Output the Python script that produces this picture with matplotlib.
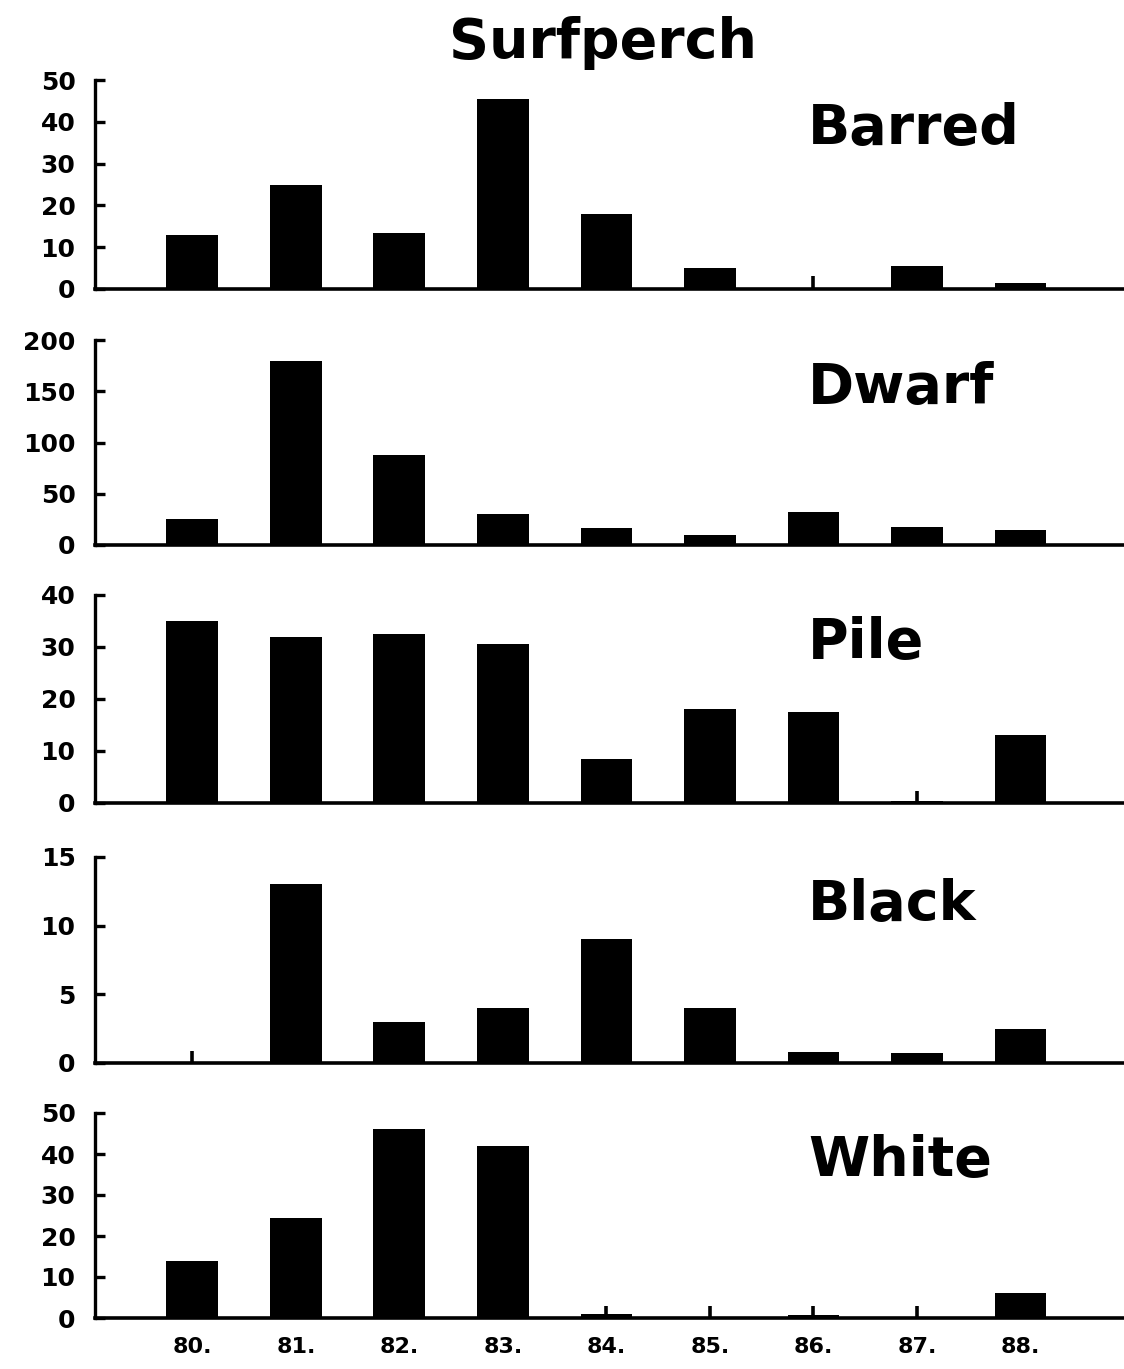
# surfperch catch by year, five stacked bar panels

import matplotlib
matplotlib.use("Agg")
import matplotlib.pyplot as plt
import matplotlib.transforms as mtransforms
import numpy as np

years = ['80.', '81.', '82.', '83.', '84.', '85.', '86.', '87.', '88.']
species = ['Barred', 'Dwarf', 'Pile', 'Black', 'White']

barred = [13, 25, 13.5, 45.5, 18, 5, 0, 5.5, 1.5]
dwarf = [25, 180, 88, 30, 17, 10, 32, 18, 15]
pile = [35, 32, 32.5, 30.5, 8.5, 18, 17.5, 0.3, 13]
black = [0, 13, 3, 4, 9, 4, 0.8, 0.7, 2.5]
white = [14, 24.5, 46, 42, 1, 0, 0.8, 0, 6]

# small vertical marks drawn at these years (near-zero catches)
barred_marks = ['86.']
dwarf_marks = []
pile_marks = ['87.']
black_marks = ['80.']
white_marks = ['84.', '85.', '86.', '87.']

y_max = [50, 200, 40, 15, 50]
y_step = [10, 50, 10, 5, 10]

data = [barred, dwarf, pile, black, white]
marks = [barred_marks, dwarf_marks, pile_marks, black_marks, white_marks]

plt.rcParams['font.family'] = ['DejaVu Sans']
plt.rcParams['font.weight'] = 'bold'

fig = plt.figure(figsize=(11.24, 13.69), dpi=100)

# [top px, zero px] of each panel in the 1369 px tall figure
panel_px = [(80, 289), (340, 545), (595, 803), (857, 1063), (1113, 1318)]
H = 1369.0
left = 95 / 1124.0
x = np.arange(len(years))

for i, name in enumerate(species):
    top, bot = panel_px[i]
    ax = fig.add_axes([left, 1 - bot / H, 1 - left, (bot - top) / H])
    ax.bar(x, data[i], width=0.5, color='black')

    trans = mtransforms.blended_transform_factory(ax.transData, ax.transAxes)
    for m in marks[i]:
        xi = years.index(m)
        ax.plot([xi, xi], [0, 0.06], color='black', lw=2.6, transform=trans,
                solid_capstyle='butt', clip_on=False)

    ax.set_xlim(-0.94, 9.0)
    ax.set_ylim(0, y_max[i])
    ax.set_yticks(np.arange(0, y_max[i] + 1, y_step[i]))
    for s in ['top', 'right']:
        ax.spines[s].set_visible(False)
    ax.spines['left'].set_linewidth(2.4)
    ax.spines['bottom'].set_linewidth(2.6)
    ax.tick_params(axis='y', direction='in', length=7, width=2.4,
                   labelsize=18, pad=14)
    for lab in ax.get_yticklabels():
        lab.set_fontweight('heavy')

    if i == len(species) - 1:
        ax.set_xticks(x)
        ax.set_xticklabels(years, fontsize=16, fontweight='bold')
        ax.tick_params(axis='x', length=0, pad=14)
    else:
        ax.set_xticks([])

    ax.text(0.693, 0.695, name, transform=ax.transAxes, fontsize=40,
            fontweight='bold', ha='left', va='baseline')

fig.text(603 / 1124.0, 1 - 58 / H, 'Surfperch', fontsize=40, fontweight='bold',
         ha='center', va='baseline')

fig.savefig('out.png', dpi=100)
